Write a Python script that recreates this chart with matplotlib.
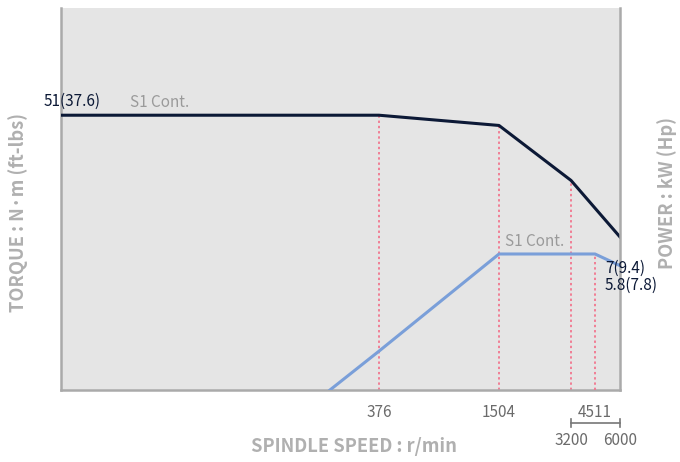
import matplotlib as mpl
mpl.use('Agg')
import matplotlib.pyplot as plt
import numpy as np

# speed breakpoints (schematic, non-linear axis)
rpm_marks = [0, 376, 1504, 3200, 4511, 6000]
rpm_pos = [0, 318, 438, 510, 534, 559]   # relative position along the axis

torque_rpm = [0, 376, 1504, 3200, 6000]
torque_val = [51, 51, 49.1, 38.9, 28.4]

power_rpm = [318, 376, 1504, 4511, 6000]
power_val = [0, 2.0, 7, 7, 6.4]

main_ticks = [376, 1504, 4511]
sub_ticks = [3200, 6000]

navy = '#0c1936'
blue = '#7a9fd9'
pink = '#f2768e'
gray = '#9a9a9a'
tick_gray = '#6b6b6b'
label_gray = '#b0b0b0'
font = ['Noto Sans CJK KR', 'DejaVu Sans']

plt.rcParams['font.family'] = font


def fwd(x):
    return np.interp(x, rpm_marks, rpm_pos)


def inv(x):
    return np.interp(x, rpm_pos, rpm_marks)


fig = plt.figure(figsize=(6.8, 4.62), dpi=100)
ax = fig.add_axes([61/680, 1 - 390/462, 559/680, 382/462])
ax.set_xscale('function', functions=(fwd, inv))
ax.set_xlim(0, 6000)
ax.set_ylim(0, 70.9)
ax.set_facecolor('#e5e5e5')

ax2 = ax.twinx()
ax2.set_ylim(0, 19.66)
ax2.patch.set_visible(False)

# dotted guides
for r in [376, 1504, 3200]:
    t = np.interp(r, torque_rpm, torque_val)
    ax.plot([r, r], [0, t], color=pink, lw=1.3, ls=(0, (1.3, 1.6)), zorder=1)
ax2.plot([4511, 4511], [0, 7], color=pink, lw=1.3, ls=(0, (1.3, 1.6)), zorder=1)

ax.plot(torque_rpm, torque_val, color=navy, lw=2.2, zorder=3)
ax2.plot(power_rpm, power_val, color=blue, lw=2.2, zorder=3, clip_on=True)

for a in (ax, ax2):
    for s in a.spines.values():
        s.set_visible(False)
    a.tick_params(left=False, right=False, labelleft=False, labelright=False)
for side in ['left', 'right', 'bottom']:
    ax.spines[side].set_visible(True)
    ax.spines[side].set_color('#aaaaaa')
    ax.spines[side].set_linewidth(1.8)
ax.spines['right'].set_zorder(5)

ax.set_xticks(main_ticks)
ax.set_xticklabels([str(t) for t in main_ticks])
ax.tick_params(axis='x', length=0, pad=10, labelsize=11, labelcolor=tick_gray)
ax.xaxis.set_minor_locator(mpl.ticker.NullLocator())

# 3200 - 6000 bracket
ax.plot(sub_ticks, [-0.0864, -0.0864], color='#777777', lw=1.2,
        transform=ax.get_xaxis_transform(), clip_on=False)
for r in sub_ticks:
    ax.plot([r, r], [-0.076, -0.097], color='#777777', lw=1.2,
            transform=ax.get_xaxis_transform(), clip_on=False)
    ax.text(r, -0.1335, str(r), transform=ax.get_xaxis_transform(),
            ha='center', va='center', fontsize=11, color=tick_gray)

# labels on curves
ax.annotate('51(37.6)', xy=(0, 51), xytext=(-17, 14), textcoords='offset pixels',
            ha='left', va='center', fontsize=11, color=navy)
ax.annotate('S1 Cont.', xy=(0, 51), xytext=(69, 13), textcoords='offset pixels',
            ha='left', va='center', fontsize=11, color=gray)
ax2.annotate('S1 Cont.', xy=(1504, 7), xytext=(6, 12), textcoords='offset pixels',
             ha='left', va='center', fontsize=11, color=gray)
ax2.annotate('7(9.4)', xy=(6000, power_val[-1]), xytext=(-15, -3), textcoords='offset pixels',
             ha='left', va='center', fontsize=11, color=navy, annotation_clip=False)
ax2.annotate('5.8(7.8)', xy=(6000, power_val[-1]), xytext=(-15, -20), textcoords='offset pixels',
             ha='left', va='center', fontsize=11, color=navy, annotation_clip=False)

fig.text(18/680, 1 - 213/462, 'TORQUE : N·m (ft-lbs)', rotation=90, ha='center', va='center',
         fontsize=13.2, fontweight='bold', color=label_gray)
fig.text(667/680, 1 - 193/462, 'POWER : kW (Hp)', rotation=90, ha='center', va='center',
         fontsize=13.2, fontweight='bold', color=label_gray)
fig.text(354/680, 1 - 447/462, 'SPINDLE SPEED : r/min', ha='center', va='center',
         fontsize=13.2, fontweight='bold', color=label_gray)

plt.savefig('out.png', dpi=100)
